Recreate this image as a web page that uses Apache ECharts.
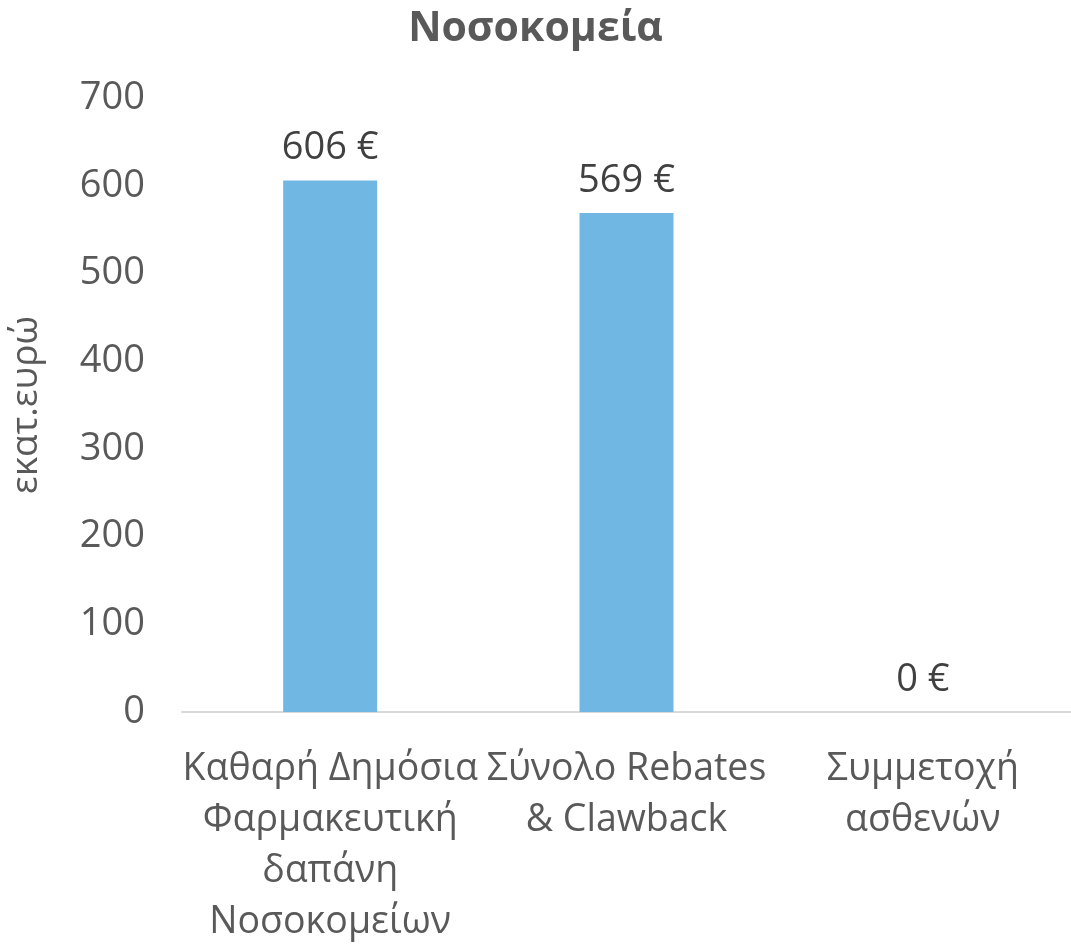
<!DOCTYPE html>
<html>
<head>
<meta charset="utf-8">
<script src="https://cdn.jsdelivr.net/npm/echarts@6/dist/echarts.min.js"></script>
<style>
  html, body { margin: 0; padding: 0; background: #ffffff; }
  #chart { width: 1071px; height: 948px; }
</style>
</head>
<body>
<div id="chart"></div>
<script>
// Hospital pharmaceutical spending, million euro
const categories = [
  'Καθαρή Δημόσια\nΦαρμακευτική\nδαπάνη\nΝοσοκομείων',
  'Σύνολο Rebates\n& Clawback',
  'Συμμετοχή\nασθενών'
];
const values = [606, 569, 0];
const yTicks = { min: 0, max: 700, interval: 100 };

const FONT = '"Open Sans", "Noto Sans", sans-serif';

const chart = echarts.init(document.getElementById('chart'), null, { renderer: 'canvas' });
chart.setOption({
  backgroundColor: '#ffffff',
  animation: false,
  title: {
    text: 'Νοσοκομεία',
    left: 'center',
    top: 4,
    textStyle: { fontFamily: FONT, fontSize: 41, fontWeight: 'bold', color: '#595959' }
  },
  grid: { left: 177, top: 98, width: 900, height: 617, containLabel: false },
  xAxis: {
    type: 'category',
    data: categories,
    axisLine: { show: true, lineStyle: { color: '#d9d9d9', width: 2 } },
    axisTick: { show: false },
    axisLabel: {
      interval: 0,
      margin: 32,
      fontFamily: FONT,
      fontSize: 37.5,
      color: '#595959',
      lineHeight: 51
    }
  },
  yAxis: {
    type: 'value',
    min: yTicks.min,
    max: yTicks.max,
    interval: yTicks.interval,
    name: 'εκατ.ευρώ',
    nameLocation: 'middle',
    nameGap: 137,
    nameRotate: 90,
    nameTextStyle: { fontFamily: FONT, fontSize: 37, color: '#595959' },
    axisLine: { show: false },
    axisTick: { show: false },
    splitLine: { show: false },
    axisLabel: { margin: 37, fontFamily: FONT, fontSize: 38, color: '#595959' }
  },
  series: [{
    type: 'bar',
    data: values,
    barWidth: 94,
    itemStyle: { color: '#71b7e3' },
    label: {
      show: true,
      position: 'top',
      distance: 13,
      fontFamily: FONT,
      fontSize: 38,
      color: '#404040',
      formatter: p => p.value + ' €'
    }
  }]
});
</script>
</body>
</html>
